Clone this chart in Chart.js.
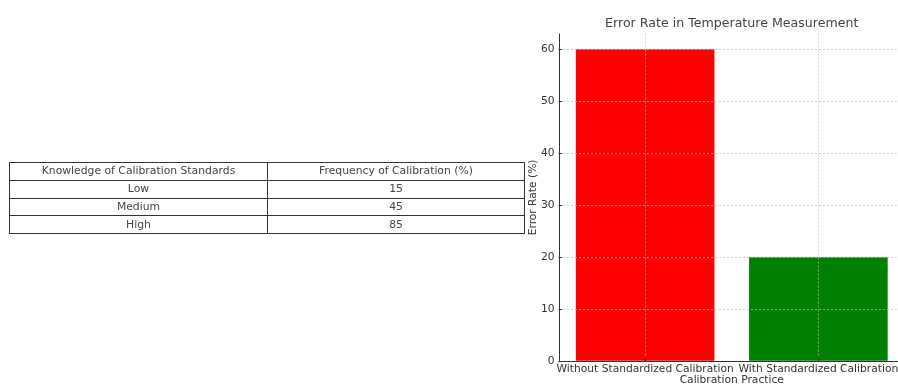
<!DOCTYPE html>
<html>
<head>
<meta charset="utf-8">
<script src="https://cdn.jsdelivr.net/npm/chart.js@4/dist/chart.umd.min.js"></script>
<style>
  html, body { margin: 0; padding: 0; width: 898px; height: 387px; overflow: hidden; background: #fff; }
  #wrap { position: relative; width: 898px; height: 387px; overflow: hidden; }
  #c { position: absolute; left: 0; top: 0; }
  #tbl { position: absolute; left: 9px; top: 162px; width: 515px; border-collapse: collapse;
         font-family: "DejaVu Sans", sans-serif; font-size: 10.8px; color: #444; table-layout: fixed; }
  #tbl td { border: 1px solid #333; text-align: center; height: 16.8px; padding: 0; line-height: 16px; }
</style>
</head>
<body>
<div id="wrap">
  <canvas id="c" width="920" height="387"></canvas>
  <table id="tbl"></table>
</div>
<script>
// ---- data ----
const categories = ["Without Standardized Calibration", "With Standardized Calibration"];
const errorRates = [60, 20];
const barColors = ["#ff0000", "#008000"];
const yTickValues = [0, 10, 20, 30, 40, 50, 60];

const tableHeaders = ["Knowledge of Calibration Standards", "Frequency of Calibration (%)"];
const knowledgeLevels = ["Low", "Medium", "High"];
const calibrationFrequency = [15, 45, 85];

// ---- table ----
const tbl = document.getElementById('tbl');
const colW = [257, 256];
const hr = document.createElement('tr');
tableHeaders.forEach((h, i) => { const td = document.createElement('td'); td.textContent = h; td.style.width = colW[i] + 'px'; hr.appendChild(td); });
tbl.appendChild(hr);
knowledgeLevels.forEach((lv, i) => {
  const tr = document.createElement('tr');
  [lv, String(calibrationFrequency[i])].forEach(v => { const td = document.createElement('td'); td.textContent = v; tr.appendChild(td); });
  tbl.appendChild(tr);
});

// ---- chart ----
const FONT = "'DejaVu Sans', sans-serif";
const inwardTicks = {
  id: 'inwardTicks',
  afterDraw(chart) {
    const ctx = chart.ctx, x = chart.scales.x, y = chart.scales.y, a = chart.chartArea;
    ctx.save();
    ctx.setLineDash([]);
    ctx.strokeStyle = '#333'; ctx.lineWidth = 1;
    ctx.beginPath();
    y.ticks.forEach(t => { const py = Math.round(y.getPixelForValue(t.value)) + 0.5; ctx.moveTo(a.left, py); ctx.lineTo(a.left + 3.5, py); });
    categories.forEach((c, i) => { const px = Math.round(x.getPixelForValue(i)) + 0.5; ctx.moveTo(px, a.bottom); ctx.lineTo(px, a.bottom - 3.5); });
    ctx.stroke();
    // spines (left and bottom)
    ctx.beginPath();
    const lx = Math.round(a.left) + 0.5, by = Math.round(a.bottom) + 0.5;
    ctx.moveTo(lx, a.top); ctx.lineTo(lx, by); ctx.lineTo(a.right, by);
    ctx.stroke();
    ctx.restore();
  }
};

const gridColor = 'rgba(185,185,185,0.7)';
new Chart(document.getElementById('c'), {
  type: 'bar',
  data: {
    labels: categories,
    datasets: [{ data: errorRates, backgroundColor: barColors, borderWidth: 0,
                 categoryPercentage: 0.8, barPercentage: 1.0 }]
  },
  options: {
    responsive: false, animation: false, devicePixelRatio: 1,
    layout: { padding: { left: 518.5, right: 15, top: 0, bottom: 0 } },
    plugins: {
      legend: { display: false }, tooltip: { enabled: false },
      title: { display: true, text: 'Error Rate in Temperature Measurement', fullSize: false,
               color: '#444', font: { family: FONT, size: 12.6, weight: 'normal' },
               padding: { top: 16.5, bottom: 1.9 } }
    },
    scales: {
      x: {
        offset: true,
        grid: { offset: false, z: 1, color: gridColor, tickLength: 0, drawTicks: false },
        border: { display: false, dash: [2, 2] },
        ticks: { color: '#333', font: { family: FONT, size: 10.7 }, padding: 2, maxRotation: 0, autoSkip: false },
        title: { display: true, text: 'Calibration Practice', color: '#333', font: { family: FONT, size: 10.7 }, padding: { top: 0, bottom: 0 } },
        afterFit(s) { s.height = 25.7; }
      },
      y: {
        min: 0, max: 63,
        afterBuildTicks(s) { s.ticks = yTickValues.map(v => ({ value: v })); },
        grid: { z: 1, color: gridColor, tickLength: 0, drawTicks: false },
        border: { display: false, dash: [2, 2] },
        ticks: { color: '#333', font: { family: FONT, size: 10.7 }, padding: 4 },
        title: { display: true, text: 'Error Rate (%)', color: '#333', font: { family: FONT, size: 10.7 }, padding: { top: 8, bottom: 0 } },
        afterFit(s) { s.width = 40; }
      }
    }
  },
  plugins: [inwardTicks]
});
</script>
</body>
</html>
